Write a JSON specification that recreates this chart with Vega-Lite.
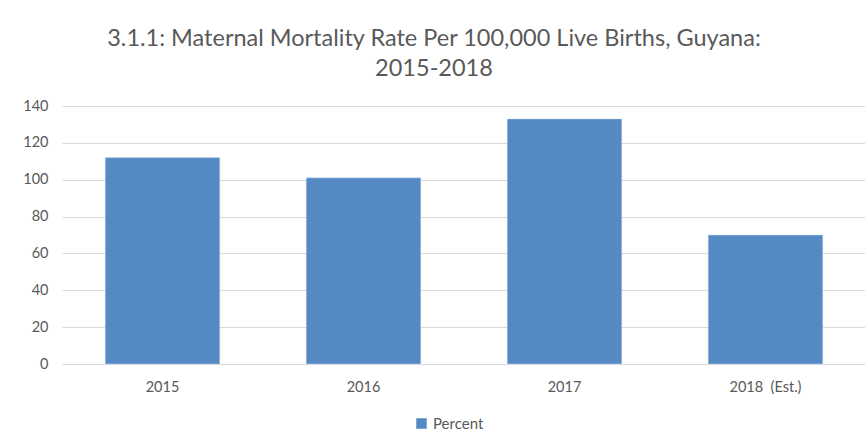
{
  "$schema": "https://vega.github.io/schema/vega-lite/v6.json",
  "autosize": "none",
  "width": 804,
  "height": 258,
  "padding": {"left": 62, "top": 106, "right": 0, "bottom": 74},
  "background": "white",
  "title": {
    "text": ["3.1.1: Maternal Mortality Rate Per 100,000 Live Births, Guyana:", "2015-2018"],
    "font": "Lato",
    "fontSize": 23.5,
    "fontWeight": "normal",
    "color": "#595959",
    "anchor": "middle",
    "lineHeight": 30,
    "offset": 18,
    "dx": -30
  },
  "data": {
    "values": [
      {"year": "2015", "value": 112, "series": "Percent"},
      {"year": "2016", "value": 101, "series": "Percent"},
      {"year": "2017", "value": 133, "series": "Percent"},
      {"year": "2018\u00a0 (Est.)", "value": 70, "series": "Percent"}
    ]
  },
  "mark": {"type": "bar", "stroke": "#c9d9ee", "strokeWidth": 0.5},
  "encoding": {
    "x": {
      "field": "year",
      "type": "nominal",
      "sort": null,
      "title": null,
      "scale": {"paddingInner": 0.43, "paddingOuter": 0.215},
      "axis": {
        "labelAngle": 0,
        "labelFont": "Lato",
        "labelFontSize": 14.5,
        "labelColor": "#595959",
        "ticks": false,
        "labelPadding": 16,
        "domainColor": "#d9d9d9",
        "domainWidth": 1
      }
    },
    "y": {
      "field": "value",
      "type": "quantitative",
      "title": null,
      "scale": {"domain": [0, 140]},
      "axis": {
        "values": [0, 20, 40, 60, 80, 100, 120, 140],
        "labelFont": "Lato",
        "labelFontSize": 14.5,
        "labelColor": "#595959",
        "ticks": false,
        "domain": false,
        "labelPadding": 14,
        "gridColor": "#d9d9d9",
        "gridWidth": 1
      }
    },
    "color": {
      "field": "series",
      "type": "nominal",
      "scale": {"range": ["#5589c4"]},
      "legend": {
        "title": null,
        "orient": "none",
        "legendX": 352,
        "legendY": 310,
        "direction": "horizontal",
        "symbolType": "square",
        "symbolSize": 110,
        "symbolStrokeWidth": 0,
        "labelFont": "Lato",
        "labelFontSize": 15,
        "labelColor": "#595959",
        "labelOffset": 4
      }
    }
  },
  "config": {"view": {"stroke": null}}
}
